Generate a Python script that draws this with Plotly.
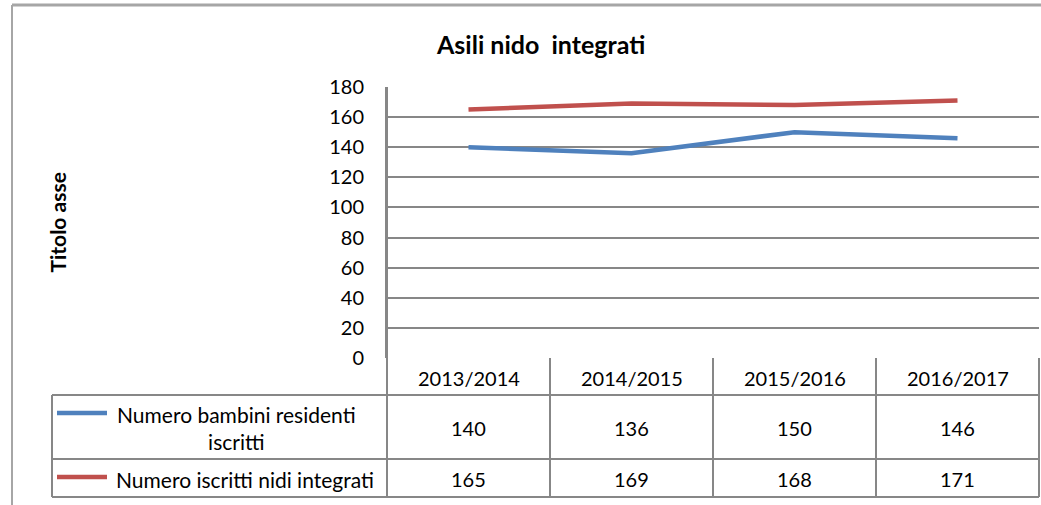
import plotly.graph_objects as go

title = "Asili nido  integrati"
y_title = "Titolo asse"
categories = ["2013/2014", "2014/2015", "2015/2016", "2016/2017"]
series_names = ["Numero bambini residenti<br>iscritti", "Numero iscritti nidi integrati"]
residenti = [140, 136, 150, 146]
iscritti_integrati = [165, 169, 168, 171]
series_values = [residenti, iscritti_integrati]
series_colors = ["#4F81BD", "#C0504D"]
y_ticks = [0, 20, 40, 60, 80, 100, 120, 140, 160, 180]

W, H = 1041, 505
L, R, T, B = 387, 1039, 87, 358  # plot area in pixels
GRID = "#878787"
FONT = "Lato"


def px(x):
    return (x - L) / (R - L)


def py(y):
    return (B - y) / (B - T)


fig = go.Figure()
for name, vals, col in zip(series_names, series_values, series_colors):
    fig.add_trace(go.Scatter(x=categories, y=vals, mode="lines", name=name,
                             line=dict(color=col, width=4.5), showlegend=False))

shapes = []


def hline(x0, x1, y, color=GRID, w=2):
    shapes.append(dict(type="line", xref="paper", yref="paper", x0=px(x0), x1=px(x1),
                       y0=py(y), y1=py(y), line=dict(color=color, width=w)))


def vline(x, y0, y1, color=GRID, w=2):
    shapes.append(dict(type="line", xref="paper", yref="paper", x0=px(x), x1=px(x),
                       y0=py(y0), y1=py(y1), line=dict(color=color, width=w)))


def label(x, y, text, size, **kw):
    return dict(x=px(x), y=py(y), xref="paper", yref="paper", text=text, showarrow=False,
                xanchor="center", yanchor="middle",
                font=dict(size=size, color="#000", family=FONT), **kw)


# outer frame
hline(12, 1041, 5, color="#A6A6A6", w=3)
vline(12, 5, 505, color="#A6A6A6", w=2)

# data table
row_top, row1, row2, row3 = 358, 395, 459, 497
cell_w = (R - L) / len(categories)
hline(52, R, row1)
hline(52, R, row2)
hline(52, R, row3)
vline(52, row1, row3)
vline(L, T, row3)
for i in range(1, len(categories) + 1):
    vline(L + i * cell_w, row_top, row3)

NUM_SIZE = 20
annotations = []
for i, c in enumerate(categories):
    cx = L + (i + 0.5) * cell_w
    annotations.append(label(cx, (row_top + row1) / 2 + 1, c, NUM_SIZE))
    annotations.append(label(cx, (row1 + row2) / 2 + 1, str(residenti[i]), NUM_SIZE))
    annotations.append(label(cx, (row2 + row3) / 2 + 1, str(iscritti_integrati[i]), NUM_SIZE))

# legend keys in table
for (y0, y1, ly), name, col, tx in [((row1, row2, 413), series_names[0], series_colors[0], 236),
                                    ((row2, row3, 477), series_names[1], series_colors[1], 245)]:
    hline(57, 107, ly, color=col, w=4.5)
    annotations.append(label(tx, (y0 + y1) / 2 + 1, name, 21, align="center"))

annotations.append(label(540, 44, "<b>" + title + "</b>", 25))
annotations.append(label(57, (T + B) / 2, "<b>" + y_title + "</b>", 21, textangle=-90))

fig.update_layout(
    width=W, height=H,
    margin=dict(l=L, r=W - R, t=T, b=H - B, pad=0),
    paper_bgcolor="white", plot_bgcolor="white",
    shapes=shapes, annotations=annotations,
    xaxis=dict(type="category", range=[-0.5, 3.5], showticklabels=False, showgrid=False,
               zeroline=False, showline=False, fixedrange=True),
    yaxis=dict(range=[0, 180], tickvals=y_ticks, showgrid=True, gridcolor=GRID, gridwidth=2,
               zeroline=False, showline=True, linecolor=GRID, linewidth=2,
               ticklabelstandoff=17, tickfont=dict(size=20, color="#000", family=FONT),
               fixedrange=True),
)

fig.write_html("out.html", config={"displayModeBar": False},
               post_script="document.body.style.margin='0';document.body.style.overflow='hidden';")
